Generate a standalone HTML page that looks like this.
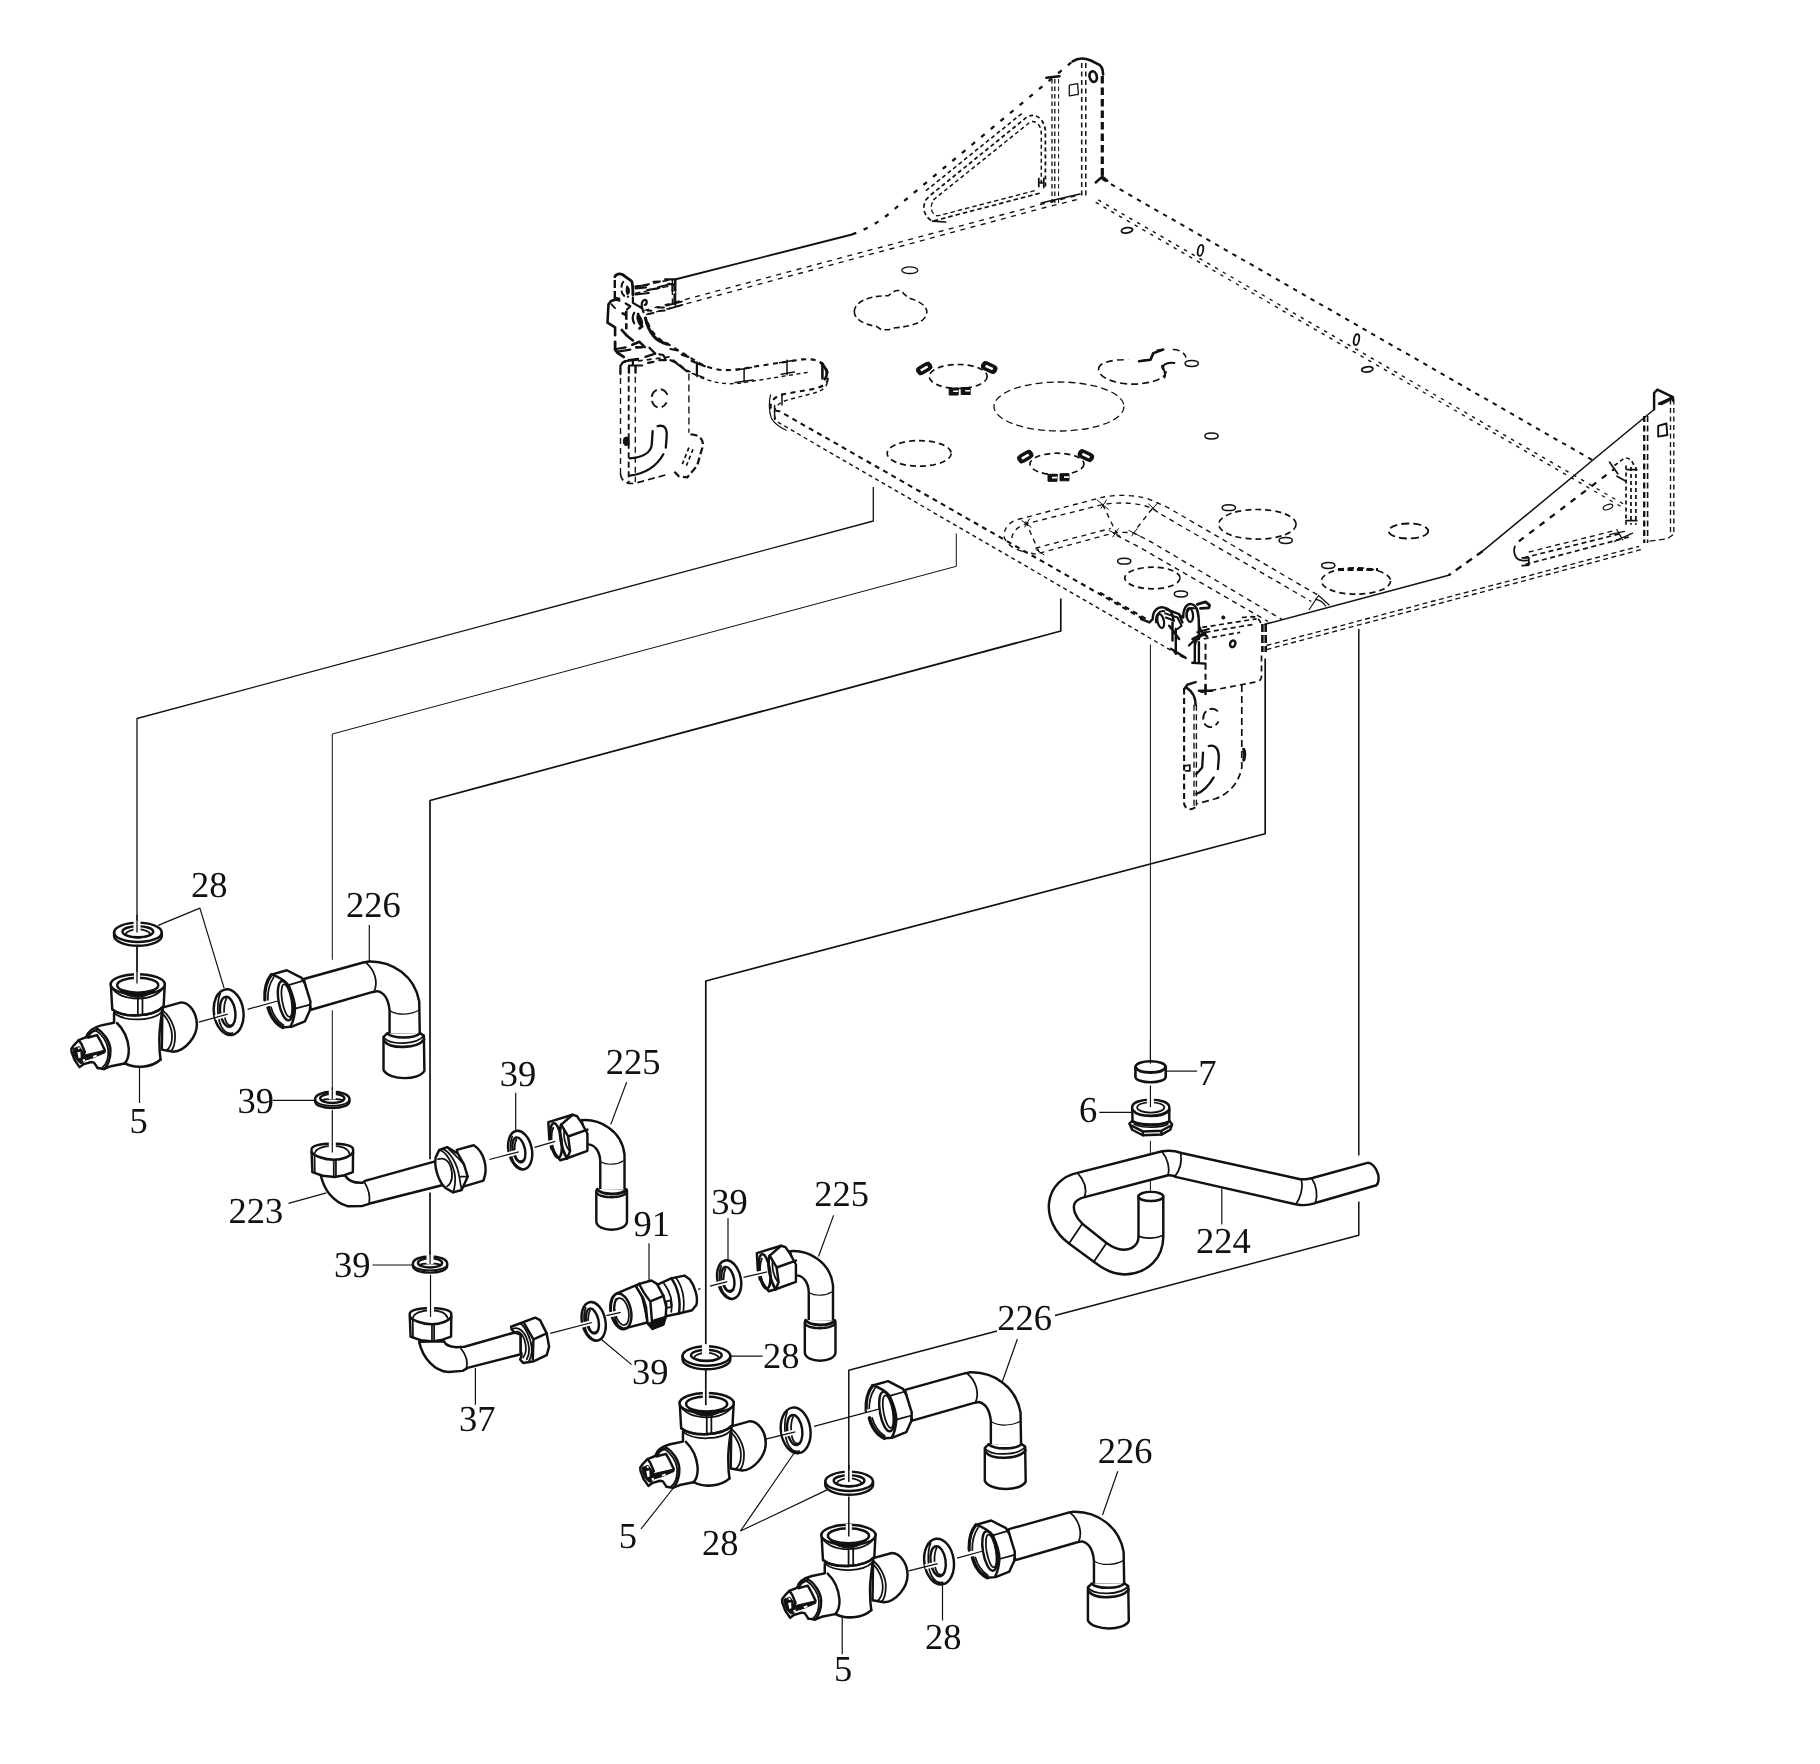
<!DOCTYPE html>
<html lang="en"><head><meta charset="utf-8"><title>Exploded view</title>
<style>
html,body{margin:0;padding:0;background:#fff;}
body{width:1820px;height:1764px;overflow:hidden;}
svg{display:block;will-change:transform;}
svg *{vector-effect:non-scaling-stroke;}
.o{fill:none;stroke:#111;stroke-width:2.45;stroke-linecap:round;stroke-linejoin:round;}
.m{fill:none;stroke:#111;stroke-width:1.75;stroke-linecap:round;stroke-linejoin:round;}
.t{fill:none;stroke:#111;stroke-width:1.2;stroke-linecap:butt;stroke-linejoin:round;}
.w{fill:#fff;stroke:#111;stroke-width:2.45;stroke-linecap:round;stroke-linejoin:round;}
.wm{fill:#fff;stroke:#111;stroke-width:1.75;stroke-linecap:round;stroke-linejoin:round;}
.h{fill:none;stroke:#fff;stroke-width:6;stroke-linecap:butt;}
.k{fill:#111;stroke:#111;stroke-width:1;stroke-linejoin:round;}
.d{fill:none;stroke:#111;stroke-width:1.7;stroke-dasharray:6 3.5;stroke-linecap:butt;stroke-linejoin:round;}
.dt{fill:none;stroke:#111;stroke-width:1.35;stroke-dasharray:6 3.5;stroke-linecap:butt;stroke-linejoin:round;}
.db{fill:none;stroke:#111;stroke-width:2.3;stroke-dasharray:6 4;stroke-linecap:butt;stroke-linejoin:round;}
text{text-rendering:geometricPrecision;font-family:"Liberation Serif","DejaVu Serif",serif;font-size:36.5px;fill:#111;}
</style></head><body>
<svg width="1820" height="1764" viewBox="0 0 1820 1764">
<rect x="0" y="0" width="1820" height="1764" fill="#fff"/>
<!-- 05_tray.py -->
<path class="m" style="stroke-width:1.9" d="M674.9,279.5 L852.0,234.5"/>
<path class="db" style="stroke-dasharray:4.5 8" d="M852,234.5 C875,226 888,215 899.6,204.7 L1072.6,61.3"/>
<path class="dt" style="stroke-dasharray:5 5.5" d="M644.4,310.4 L1046.3,203.0 L1081.0,194.5"/>
<path class="dt" style="stroke-dasharray:5 5.5" d="M646.0,314.6 L1041.3,208.5 L1081.0,198.5"/>
<path class="d" d="M634.5,286.9 L672.4,279.5"/>
<path class="dt" d="M634.5,293.5 L672.4,285.6"/>
<path class="dt" d="M672.4,279.5 L672.4,306.0"/>
<path class="m" style="stroke-width:1.2" d="M675.7,279.5 L675.7,306.0"/>
<path class="o" style="stroke-width:2.6" d="M1072.6 61.3C1077.6 58.0 1084.2 57.7 1090.8 60.5L1097.4 63.8C1101.5 65.4 1103.1 69.6 1103.1 74.5"/>
<path class="db" style="stroke-width:3.2;stroke-dasharray:7.5 4" d="M1102.3,76.0 L1102.3,176.7"/>
<path class="o" d="M1095.7 182.5L1102.3 176.7L1107.3 180.8M1102.3 171.8L1102.3 178.4"/>
<path class="dt" style="stroke-width:1.3;stroke-dasharray:4.5 3" d="M1052.0,79.0 L1052.0,203.0"/>
<path class="dt" style="stroke-width:1.3;stroke-dasharray:4.5 3" d="M1054.8,79.0 L1054.8,203.0"/>
<path class="dt" style="stroke-width:1;stroke-dasharray:4.5 3" d="M1058.6,79.0 L1058.6,203.0"/>
<path class="dt" style="stroke-width:1.5;stroke-dasharray:5 3.5" d="M1081.7,63.0 L1081.7,196.5"/>
<path class="dt" style="stroke-width:1.5;stroke-dasharray:5 3.5" d="M1085.8,63.0 L1085.8,196.5"/>
<path class="o" d="M1046.3,77.8 L1059.5,76.2"/>
<path class="t" style="stroke-width:1.3" d="M1069.3 85.2L1077.6 83.6L1078.4 94.3L1069.3 95.9Z"/>
<ellipse class="o" cx="1093.2" cy="76.6" rx="3.6" ry="5.4" transform="rotate(-15 1093.2 76.6)" style="stroke-width:2.6"/>
<path class="d" style="stroke-width:1.8;stroke-dasharray:4 3" d="M930.9 194.8L1026.5 117.4C1031.4 114.1 1037.2 114.9 1041.3 119.8C1044.3 124.0 1045.4 128.1 1045.4 132.2L1045.4 186.6"/>
<path class="d" style="stroke-width:1.6;stroke-dasharray:4 3" d="M925.9 190.7L1023.2 112.4"/>
<path class="d" style="stroke-width:1.5;stroke-dasharray:4 3" d="M933.4 199.8L1029.8 122.3C1033.1 120.3 1037.2 122.3 1039.7 126.4C1041.3 129.7 1041.3 133.0 1041.3 137.1L1041.3 186.6"/>
<path class="d" style="stroke-width:1.7;stroke-dasharray:4.5 3" d="M1039.7 193.2L932.5 221.2C925.9 217.9 921.0 209.7 925.9 199.8L930.9 194.8"/>
<path class="dt" style="stroke-dasharray:4.5 3" d="M1034.7 190.7L937.5 215.9C932.5 214.6 929.2 208.8 932.5 202.3"/>
<path class="m" d="M932.5 221.2L945.7 222.0M1038.8 178.4L1038.8 186.6M1043.8 178.4L1043.8 187.4M1038.8 182.5L1043.8 182.5"/>
<path class="m" style="stroke-width:1.3" d="M1041.0,203.0 L1080.0,194.0"/>
<path class="db" style="stroke-width:2.0;stroke-dasharray:4.5 5.5" d="M1102.3,179.2 L1593.1,460.5"/>
<path class="dt" style="stroke-dasharray:3.5 5.5" d="M1095.7,202.3 L1622.0,507.1"/>
<path class="dt" style="stroke-dasharray:3.5 5.5" d="M1098.2,199.8 L1624.5,504.6"/>
<ellipse class="m" cx="1200.5" cy="250.4" rx="2.6" ry="5.6" transform="rotate(12 1200.5 250.4)"/>
<ellipse class="m" cx="1356.5" cy="339.6" rx="2.6" ry="5.6" transform="rotate(12 1356.5 339.6)"/>
<ellipse class="m" cx="1127.0" cy="230.3" rx="5.6" ry="2.6" transform="rotate(-8 1127.0 230.3)"/>
<ellipse class="m" cx="1367.3" cy="369.4" rx="5.6" ry="2.6" transform="rotate(-8 1367.3 369.4)"/>
<path class="m" style="stroke-width:1.5" d="M1654.1,409.5 L1482.6,551.2"/>
<path class="db" style="stroke-dasharray:7 6" d="M1482.6,551.2 L1448.7,575.3"/>
<path class="m" style="stroke-width:1.5" d="M1448.7,575.3 L1264.8,624.3"/>
<path class="o" d="M1654.1 409.5L1654.1 393.0L1657.4 389.7L1673.0 397.1L1673.0 400.4M1659.0 403.7L1671.4 398.2"/>
<path class="k" d="M1659.0 404.2L1670.5 397.6L1671.9 399.6L1661.5 404.8Z"/>
<path class="db" style="stroke-dasharray:6 3.5" d="M1644.2,416.0 L1644.2,543.0"/>
<path class="db" style="stroke-dasharray:6 3.5;stroke-width:1.6" d="M1647.6,416.0 L1647.6,543.0"/>
<path class="dt" style="stroke-dasharray:5 3.5" d="M1670.5,399.6 L1670.5,534.7"/>
<path class="dt" style="stroke-dasharray:5 3.5" d="M1673.8,399.6 L1673.8,534.7"/>
<path class="dt" d="M1673.0 534.7L1667.3 538.8L1647.5 541.3"/>
<path class="o" style="stroke-width:1.9" d="M1658.2 425.9L1666.4 423.5L1667.3 435.0L1658.2 436.6Z"/>
<path class="db" style="stroke-dasharray:6 7" d="M1518.9 541.3L1614.5 468.8"/>
<path class="d" style="stroke-dasharray:4 3" d="M1614.5 465.5L1624.4 458.1C1629.3 457.3 1632.6 460.5 1634.3 467.1M1626.0 465.5L1626.0 524.8M1635.9 467.1L1635.9 524.8M1631.0 467.1L1631.0 524.8"/>
<path class="m" d="M1626.9 469.6L1636.8 469.6M1626.0 520.7L1636.8 520.7M1617.0 476.2L1626.0 481.2M1617.8 473.7L1609.6 462.2"/>
<path class="d" style="stroke-dasharray:5 3.5" d="M1523.8 557.8L1622.7 533.1M1525.5 564.4L1631.0 536.4"/>
<path class="dt" style="stroke-dasharray:5 4" d="M1528.8 552.0L1617.8 529.8"/>
<path class="m" d="M1514.8 546.3C1512.3 556.2 1517.3 561.9 1527.1 560.3M1522.2 557.8L1528.8 557.8L1528.8 565.2L1522.2 565.7"/>
<path class="m" style="stroke-width:1.3" d="M1609.6 534.7L1624.4 531.4M1614.5 541.3L1632.6 533.1M1617.8 531.4L1622.7 539.7"/>
<path class="dt" style="stroke-dasharray:5 3.5" d="M1266.5,645.5 L1639.2,546.3"/>
<path class="dt" style="stroke-dasharray:5 3.5" d="M1266.5,649.6 L1640.9,549.6"/>
<ellipse class="m" cx="1608.0" cy="507.0" rx="5.0" ry="2.4" transform="rotate(-20 1608.0 507.0)" style="stroke-width:1.2"/>
<path class="db" style="stroke-width:2.1;stroke-dasharray:5 4.5" d="M647.7 322.3C651.0 332.2 659.2 340.4 667.5 343.7L697.1 361.9C705.4 366.8 715.3 370.1 725.2 370.1C735.1 370.1 744.9 368.5 754.8 366.5L802.6 359.4C810.9 358.6 819.1 360.2 823.2 364.3C827.4 368.5 829.0 375.1 827.4 380.8C825.7 384.9 820.8 387.4 812.5 389.1L784.5 394.0C776.3 395.7 771.3 399.8 770.5 406.4C770.5 408.8 773.0 410.5 779.6 411.3 L1145.5,620.3"/>
<path class="dt" style="stroke-width:1.4;stroke-dasharray:4 3.5" d="M687.3 370.1C697.1 376.7 710.3 382.5 726.8 383.6C736.7 384.1 744.9 382.5 754.8 380.8L809.2 372.1M827.4 382.5C825.7 388.2 820.8 391.5 812.5 393.5L787.8 399.8C779.6 402.3 774.6 406.4 774.3 413.0C774.3 417.9 776.3 421.2 779.6 423.2 L1186,659"/>
<path class="m" style="stroke-width:1.5" d="M697.1 361.9L697.1 376.7M744.1 368.5L744.1 382.0M787.0 360.2L787.0 374.7M782.0 394.0L782.0 405.1M774.6 405.5L774.6 419.6M692.2 373.4L703.7 377.5M735.1 382.5L753.2 380.0M781.2 374.2L794.4 372.1M779.6 362.7L794.4 360.2M736.7 370.1L751.5 367.6"/>
<path class="o" style="stroke-width:2.6" d="M820.8 362.7C827.4 368.5 828.2 375.1 824.9 379.2M822.4 363.5L822.4 378.4"/>
<path class="m" style="stroke-width:1.2" d="M770.5 394.8C768.8 401.4 768.8 411.3 771.3 417.9C774.6 424.5 781.2 427.8 786.2 430.3"/>
<path class="db" style="stroke-width:2.4;stroke-dasharray:8 3" d="M614.8 298.9L614.8 276.8"/>
<path class="o" style="stroke-width:2.8" d="M614.8 276.8C615.8 273.9 619.7 273.2 622.4 274.5L631.6 281.1C632.6 283.1 632.9 285.1 632.9 295.0"/>
<path class="k" d="M627.0 285.7C630.3 288.4 630.3 293.0 627.6 295.0C625.7 293.6 625.7 288.4 627.0 285.7Z"/>
<path class="d" style="stroke-width:1.9;stroke-dasharray:7 3" d="M623.7 281.1C621.1 283.8 620.7 289.7 622.4 293.6L625.7 297.9L629.0 296.3"/>
<path class="o" style="stroke-width:2.0" d="M635.6 286.5L647.4 285.1M653.4 281.8L660.0 281.6M658.0 287.2L671.2 283.9M635.6 288.5L646.1 287.4M635.6 294.4L648.7 293.0M647.4 290.0L659.3 288.0"/>
<path class="o" style="stroke-width:2.3" d="M665.2 279.3L675.1 279.3L675.1 290.4M674.5 294.3L674.5 304.2M672.5 283.8L672.5 291.0M668.5 283.8L675.1 284.4"/>
<path class="o" style="stroke-width:2.0" d="M657.3 307.5L663.9 307.5M666.5 305.5L681.7 301.6M659.3 311.1L664.6 310.5M668.5 308.9L682.4 304.9M647.4 310.5L651.4 310.8M648.1 314.1L653.4 313.1"/>
<path class="o" style="stroke-width:2.6" d="M619.1 298.9L615.1 299.7L611.2 300.9L608.5 304.2L607.9 314.7L607.5 322.7L615.1 327.3L615.1 335.2"/>
<path class="o" style="stroke-width:2.8" d="M615.1 341.8L615.1 349.7L617.8 353.0L623.7 356.9"/>
<path class="m" d="M611.2 304.2L615.1 308.2M615.1 299.6L619.7 300.9M615.8 297.6L619.1 298.9"/>
<path class="o" style="stroke-width:2.2" d="M632.9 297.6L632.9 302.9L642.2 308.2M625.7 303.5L630.3 306.2L627.0 309.5M642.2 308.2C640.8 304.2 642.2 300.2 644.8 299.9C647.4 300.2 647.4 304.2 644.8 304.9M642.2 308.2L643.5 312.1"/>
<path class="db" style="stroke-width:2.6;stroke-dasharray:9 3.5" d="M621.7 312.8L625.0 314.7L626.3 312.1M626.3 310.8L626.3 329.3"/>
<path class="o" style="stroke-width:2.2" d="M634.2 312.8C632.3 316.1 632.3 320.0 634.2 323.3"/>
<path class="o" style="stroke-width:2.8" d="M638.2 314.1C636.9 318.7 638.9 324.0 642.2 326.3L639.5 328.3M638.9 316.1C640.8 318.7 642.2 322.7 641.5 325.3"/>
<path class="o" style="stroke-width:3.2" d="M645.4 318.0C646.8 324.6 650.1 331.9 654.0 336.5C657.3 340.5 661.9 342.8 667.5 344.1"/>
<path class="o" style="stroke-width:2.6" d="M621.7 329.9L627.0 335.8L632.9 340.5M632.3 344.7L639.5 341.8L644.8 347.1M636.2 347.4L642.2 347.1"/>
<path class="o" style="stroke-width:2.2" d="M616.4 349.0L625.7 347.4M617.8 351.7L630.3 349.7M649.4 347.7L655.3 353.6L645.4 356.9M659.3 354.3L663.3 355.0L665.9 360.2L659.3 360.2M648.1 362.9L653.4 361.9"/>
<path class="o" style="stroke-width:2.2" d="M670.5 349.0L677.8 350.3M681.7 354.6L688.3 356.9M670.5 360.2L675.1 362.2L687.0 371.4M691.6 360.9L704.8 366.2M696.9 364.9L696.9 374.1"/>
<path class="o" style="stroke-width:2.2" d="M621.1 364.9C622.4 362.2 624.4 360.9 627.0 360.9L638.2 359.6M628.3 360.2L638.2 358.9M632.9 359.6L632.9 364.9M629.0 365.5L642.2 365.5M620.4 365.5L620.4 374.1M629.0 366.8L629.0 372.8M635.6 366.8L635.6 372.8"/>
<path class="d" style="stroke-dasharray:5 4" d="M637.8 361.0L669.1 356.9L688.9 371.8"/>
<path class="dt" style="stroke-dasharray:6 4" d="M620.5 474.0L620.5 366.8C621.0 363.5 623.0 361.9 626.3 361.9"/>
<path class="d" style="stroke-width:1.9;stroke-dasharray:6 3.5" d="M628.7 366.8L628.7 482.2"/>
<path class="dt" style="stroke-dasharray:6 4" d="M635.3 366.8L635.3 482.2"/>
<path class="dt" style="stroke-dasharray:7 4" d="M688.9 373.4L688.9 432.7"/>
<path class="d" style="stroke-dasharray:7 4" d="M620.5 474.0C621.3 482.2 627.9 484.7 636.2 483.0L669.1 474.0"/>
<path class="d" style="stroke-width:1.9;stroke-dasharray:9 4" d="M667.5 394.8C664.2 388.2 657.6 387.4 653.5 392.4C649.3 398.1 652.6 407.2 659.2 407.7C662.5 407.7 665.0 405.5 666.6 402.3"/>
<path class="o" style="stroke-width:2.3" d="M657.6 426.2C664.2 424.5 667.5 427.8 666.6 437.7L665.8 447.6M652.6 431.1L651.8 444.3C651.0 452.5 642.7 457.5 629.6 458.3M663.4 454.2C655.9 467.4 642.7 474.0 629.6 475.6"/>
<ellipse class="k" cx="626.3" cy="441.3" rx="3.0" ry="4.2"/>
<path class="db" style="stroke-dasharray:7 3.5" d="M690.5 434.4C698.8 434.4 703.7 439.3 702.9 445.9L697.1 465.7L687.3 477.3L679.0 476.4L674.1 471.5"/>
<path class="d" style="stroke-dasharray:4 3" d="M688.9 447.6L682.3 464.1M693.0 449.2L686.4 465.7"/>
<path class="db" style="stroke-width:2.1;stroke-dasharray:5 4.5" d="M1100.0 592.7L1149.5 620.8"/>
<path class="o" d="M1141.2 619.1L1149.5 622.4L1152.7 619.1C1152.7 610.9 1157.7 605.9 1164.3 607.6C1169.2 608.4 1172.5 612.5 1173.4 619.1M1183.2 617.5C1183.2 607.6 1187.4 602.6 1192.3 604.3C1197.3 605.9 1198.9 612.5 1198.9 625.7L1198.9 638.9"/>
<ellipse class="o" cx="1160.7" cy="621.1" rx="3.2" ry="7.0" transform="rotate(-12 1160.7 621.1)" style="stroke-width:2.2"/>
<ellipse class="o" cx="1189.8" cy="615.0" rx="3.2" ry="7.0" transform="rotate(-5 1189.8 615.0)" style="stroke-width:2.2"/>
<path class="o" style="stroke-width:2.0" d="M1156.0 622.4C1155.2 615.0 1159.3 610.1 1164.3 611.2M1186.5 617.5C1186.0 610.9 1189.8 606.8 1194.0 608.4M1165.1 613.4L1177.5 617.5L1181.6 625.7L1177.5 629.0M1165.9 617.5L1174.2 620.8M1179.1 614.2L1182.4 617.5"/>
<path class="o" style="stroke-width:2.2" d="M1192.3 638.9L1205.5 632.3M1197.3 632.3L1208.8 629.0M1189.0 645.5L1195.6 638.9M1198.9 625.7C1201.4 632.3 1203.8 635.6 1207.1 636.4"/>
<path class="o" style="stroke-width:2.8" d="M1197.3 604.3L1205.5 601.8L1209.6 605.1L1208.8 607.9L1200.5 608.4"/>
<path class="o" d="M1165.9 609.2L1179.1 614.2L1182.4 622.4M1172.5 622.4L1172.5 640.5M1175.8 629.0L1175.8 653.7M1169.2 625.7L1179.1 638.9M1170.9 648.8L1185.7 657.9"/>
<path class="o" style="stroke-width:2.4" d="M1194.8 642.2L1194.8 662.0M1198.9 642.2L1198.9 662.0M1194.8 645.5C1195.6 638.9 1198.9 635.6 1205.5 634.0M1192.3 662.8L1205.5 663.6"/>
<path class="d" style="stroke-dasharray:5 3.5" d="M1202.2 627.4L1256.6 618.8M1205.5 632.3L1253.3 624.4M1203.8 638.9L1240.1 632.3M1241.8 617.5L1253.3 616.6C1258.2 617.5 1260.7 620.8 1261.5 625.7"/>
<path class="db" style="stroke-dasharray:8 3;stroke-width:2.6" d="M1262.4 624.1L1262.4 652.1M1265.7 624.1L1265.7 652.1"/>
<path class="d" style="stroke-dasharray:6 4" d="M1261.5 655.4L1261.5 676.8C1260.7 681.8 1256.6 681.8 1254.9 682.1L1200.5 692.5"/>
<path class="db" style="stroke-width:2;stroke-dasharray:6 4" d="M1205.5 643.8L1205.5 691.6"/>
<path class="o" d="M1198.9 690.8L1212.1 690.8M1205.5 685.1L1205.5 694.1"/>
<ellipse class="o" cx="1232.7" cy="643.8" rx="2.6" ry="3.4" transform="rotate(20 1232.7 643.8)"/>
<ellipse class="k" cx="1223.3" cy="617.5" rx="1.6" ry="1.6"/>
<path class="db" style="stroke-width:2.1;stroke-dasharray:6 3.5" d="M1184.1 688.4L1184.1 803.7C1185.7 810.3 1192.3 810.3 1195.6 807.0"/>
<path class="dt" style="stroke-dasharray:6 3.5" d="M1194.0 704.8L1194.0 807.0M1196.4 704.8L1196.4 807.0"/>
<path class="o" d="M1184.1 689.2L1187.4 684.7L1195.6 682.1M1187.4 688.4C1192.3 691.6 1195.6 695.8 1195.6 704.8"/>
<path class="d" style="stroke-width:1.7;stroke-dasharray:7 4" d="M1241.8 685.1L1241.8 767.5C1238.5 784.0 1228.6 793.8 1215.4 798.8L1197.3 803.7"/>
<path class="o" style="stroke-width:3.2" d="M1243.7 749.3C1245.1 752.6 1245.1 755.9 1243.7 760.1"/>
<path class="d" style="stroke-width:1.9;stroke-dasharray:9 4" d="M1217.9 711.4C1213.7 707.3 1208.0 708.1 1204.7 713.1C1201.4 718.8 1203.8 726.3 1209.6 727.1C1213.7 727.4 1217.0 724.6 1218.4 721.3"/>
<path class="o" style="stroke-width:2.3" d="M1208.8 746.0C1215.4 744.4 1219.5 749.3 1218.7 759.2L1217.9 769.1M1203.0 752.6L1202.2 767.5L1196.4 774.1M1213.7 777.4C1208.8 785.6 1202.2 792.2 1196.4 793.8"/>
<path class="m" d="M1184.9 765.8L1189.8 765.0L1189.8 770.8L1185.7 770.8"/>
<path class="dt" style="stroke-dasharray:5 4.5" d="M1021.6,551.1 C1013.7,549.1 1004.8,543.2 1003.8,535.3 C1004.8,525.4 1011.8,520.4 1021.6,518.5 L1100.8,497.7 C1116.6,493.7 1142.3,494.7 1154.2,501.6 L1167.5,507.3 L1318.6,595.5"/>
<path class="dt" style="stroke-dasharray:5 4.5" d="M1011.8,538.2 C1012.7,530.3 1019.7,525.4 1027.6,523.4 L1102.7,504.6 C1118.6,501.6 1140.3,502.6 1152.2,508.6 L1161.4,514.5 L1311.3,601.5"/>
<path class="dt" style="stroke-dasharray:5 4.5" d="M1021.6,551.1 L1039.5,555 M1039.5,553.1 L1112.6,533.3 C1120.5,531.7 1128.5,532.3 1134.4,533.3 L1151.8,542.3 L1282.3,619.7"/>
<path class="dt" style="stroke-dasharray:5 4.5" d="M1035.5,548.1 L1110.7,528.4 M1116.6,535.3 L1142.1,548.7 L1268,621.5"/>
<path class="dt" style="stroke-dasharray:5 4.5" d="M1102.7 504.6L1116.6 533.3M1152.2 508.6L1134.4 531.3M1025.6 521.4L1039.5 553.1"/>
<path class="t" style="stroke-width:1.0" d="M1096.8 499.7L1108.7 509.6M1106.7 499.7L1100.8 508.6M1148.2 503.6L1158.1 512.5M1158.1 502.6L1149.2 512.5M1108.7 530.3L1120.5 536.3M1118.6 528.4L1112.6 537.3M1128.5 530.3L1140.3 536.3M1137.4 528.4L1131.4 536.3M1021.6 520.4L1031.5 527.4M1029.6 518.5L1024.6 527.4M1035.5 549.1L1044.4 555.1"/>
<path class="t" style="stroke-width:1.2" d="M1308.9,610 L1318.6,595.5 L1329.5,605.2 M1315,599.1 C1320,600 1324,603 1325.8,606.4"/>
<ellipse class="m" cx="909.8" cy="270.2" rx="8.0" ry="3.3" style="stroke-width:1.3"/>
<path class="d" style="stroke-width:1.6;stroke-dasharray:6 3.5" d="M854.3 311.8C854.3 301.5 869.6 295.7 888.3 295.7L891.8 293.0C895.2 289.6 902.0 289.6 903.7 293.7L908.8 298.1C920.7 301.5 926.8 306.6 926.8 311.8C926.8 322.0 912.2 326.4 895.2 327.8L888.3 329.8L881.5 329.8L876.4 326.4C862.8 324.4 854.3 318.6 854.3 311.8"/>
<ellipse class="d" cx="958.2" cy="376.5" rx="29.0" ry="12.0" style="stroke-dasharray:6 4"/>
<g transform="translate(924.2,368.5) rotate(-30)"><rect class="k" x="-8" y="-4.2" width="16" height="8.4" rx="3.5"/><rect x="-4" y="-1.2" width="8" height="2.4" fill="#fff"/></g>
<g transform="translate(989.2,367.5) rotate(25)"><rect class="k" x="-8" y="-4.2" width="16" height="8.4" rx="3.5"/><rect x="-4" y="-1.2" width="8" height="2.4" fill="#fff"/></g>
<path class="k" d="M949.2,388.0 h9 v7 h-9 z M961.2,387.5 h9 v7 h-9 z"/>
<path d="M953.2,390.5 h5 v1.6 h-5 z M965.2,390.0 h5 v1.6 h-5 z" fill="#fff"/>
<ellipse class="d" cx="1057.0" cy="464.0" rx="27.0" ry="10.8" style="stroke-dasharray:6 4"/>
<g transform="translate(1025.3,456.6) rotate(-30)"><rect class="k" x="-8" y="-4.2" width="16" height="8.4" rx="3.5"/><rect x="-4" y="-1.2" width="8" height="2.4" fill="#fff"/></g>
<g transform="translate(1085.9,455.6) rotate(25)"><rect class="k" x="-8" y="-4.2" width="16" height="8.4" rx="3.5"/><rect x="-4" y="-1.2" width="8" height="2.4" fill="#fff"/></g>
<path class="k" d="M1048.0,474.3 h9 v7 h-9 z M1060.0,473.8 h9 v7 h-9 z"/>
<path d="M1052.0,476.8 h5 v1.6 h-5 z M1064.0,476.3 h5 v1.6 h-5 z" fill="#fff"/>
<ellipse class="dt" cx="1059.0" cy="406.5" rx="65.0" ry="24.5" style="stroke-dasharray:7 4;stroke-width:1.3"/>
<ellipse class="d" cx="919.2" cy="453.4" rx="32.0" ry="12.8" style="stroke-dasharray:6 4"/>
<path class="d" style="stroke-width:1.6;stroke-dasharray:7 4" d="M1098.6 369.2C1098.6 362.6 1111.8 359.3 1128.2 359.7M1139.8 361.0L1150.5 359.3L1153.0 352.7C1156.3 349.5 1161.2 349.5 1162.9 349.5M1172.7 349.5C1179.3 349.5 1185.1 352.7 1185.9 357.7M1163.7 365.9C1159.6 363.5 1162.9 372.5 1166.2 369.2C1167.8 377.5 1156.3 382.4 1136.5 384.1C1120.0 384.9 1098.6 379.1 1098.6 369.2"/>
<path class="o" style="stroke-width:2.6" d="M1139.0 361.3L1150.5 359.7L1153.5 353.1L1163.2 349.5"/>
<path class="o" style="stroke-width:1.9" d="M1174.4 363.0C1169.5 362.3 1162.9 363.5 1163.2 367.6C1164.5 372.5 1166.2 374.2 1164.5 377.5"/>
<ellipse class="m" cx="1191.7" cy="363.5" rx="6.6" ry="2.9" style="stroke-width:1.5"/>
<ellipse class="m" cx="1211.5" cy="436.0" rx="6.6" ry="2.9" style="stroke-width:1.5"/>
<ellipse class="m" cx="1228.8" cy="507.7" rx="6.6" ry="2.9" style="stroke-width:1.5"/>
<ellipse class="m" cx="1285.7" cy="540.5" rx="6.6" ry="2.9" style="stroke-width:1.5"/>
<ellipse class="m" cx="1124.2" cy="561.2" rx="6.6" ry="2.9" style="stroke-width:1.5"/>
<ellipse class="m" cx="1180.9" cy="594.0" rx="6.6" ry="2.9" style="stroke-width:1.5"/>
<ellipse class="m" cx="1328.3" cy="565.5" rx="6.6" ry="2.9" style="stroke-width:1.5"/>
<ellipse class="d" cx="1257.4" cy="524.3" rx="38.7" ry="14.8" style="stroke-dasharray:6 4"/>
<ellipse class="d" cx="1152.4" cy="578.0" rx="27.6" ry="10.8" style="stroke-dasharray:6 4"/>
<ellipse class="d" cx="1356.0" cy="581.0" rx="34.6" ry="13.2" style="stroke-dasharray:6 4"/>
<path class="db" style="stroke-width:3;stroke-dasharray:6 3.5" d="M1338,569.5 L1378,569.5"/>
<ellipse class="d" cx="1408.5" cy="531.0" rx="19.8" ry="7.5" style="stroke-dasharray:8 4;stroke-width:1.8"/>
<!-- 10_leaders.py -->
<polyline class="t" style="stroke-width:1.3" points="873.3,487.0 873.3,521.0 137.0,718.5 137.0,932.6"/>
<polyline class="t" style="stroke-width:1.3" points="137.0,947.1 137.0,983.4"/>
<polyline class="t" style="stroke-width:1" points="956.3,533.5 956.3,566.3 332.3,734.0 332.3,959.8"/>
<polyline class="t" style="stroke-width:1" points="332.3,1010.3 332.3,1099.3"/>
<polyline class="t" style="stroke-width:1.7" points="1060.8,598.5 1060.8,631.0 430.0,800.5 430.0,1159.2"/>
<polyline class="t" style="stroke-width:1.7" points="430.0,1192.4 430.0,1263.9"/>
<polyline class="t" style="stroke-width:1.7" points="1265.2,658.5 1265.2,833.8 705.8,981.0 705.8,1344.8"/>
<polyline class="t" style="stroke-width:1" points="1150.4,644.5 1150.4,1063.6"/>
<polyline class="t" style="stroke-width:1" points="1150.4,1140.9 1150.4,1197.1"/>
<polyline class="t" style="stroke-width:1.5" points="1358.8,629.0 1358.8,1155.6"/>
<polyline class="t" style="stroke-width:1.5" points="1358.8,1201.5 1358.8,1235.3 1055.0,1315.6"/>
<polyline class="t" style="stroke-width:1.5" points="997.0,1331.0 848.8,1370.2 848.8,1482.0"/>
<polyline class="t" style="stroke-width:1.2" points="158.2,925.4 199.9,908.1 224.1,988.2"/>
<polyline class="t" style="stroke-width:1.2" points="369.3,925.0 369.3,961.0"/>
<polyline class="t" style="stroke-width:1.2" points="139.5,1066.8 139.5,1103.0"/>
<polyline class="t" style="stroke-width:1.2" points="273.0,1100.3 315.0,1100.3"/>
<polyline class="t" style="stroke-width:1.2" points="288.5,1203.3 326.5,1192.8"/>
<polyline class="t" style="stroke-width:1.2" points="515.7,1092.8 515.7,1130.0"/>
<polyline class="t" style="stroke-width:1.2" points="626.6,1082.2 610.8,1124.4"/>
<polyline class="t" style="stroke-width:1.2" points="649.0,1243.2 649.0,1281.1"/>
<polyline class="t" style="stroke-width:1.2" points="728.0,1218.0 728.0,1260.2"/>
<polyline class="t" style="stroke-width:1.2" points="833.6,1215.4 818.5,1256.5"/>
<polyline class="t" style="stroke-width:1.2" points="372.5,1265.0 412.5,1265.0"/>
<polyline class="t" style="stroke-width:1.2" points="475.4,1367.9 475.4,1404.7"/>
<polyline class="t" style="stroke-width:1.2" points="600.0,1338.2 631.6,1364.6"/>
<polyline class="t" style="stroke-width:1.2" points="729.5,1356.2 762.5,1356.2"/>
<polyline class="t" style="stroke-width:1.2" points="1017.4,1339.0 1002.0,1382.5"/>
<polyline class="t" style="stroke-width:1.2" points="641.0,1529.0 674.6,1486.5"/>
<polyline class="t" style="stroke-width:1.2" points="794.2,1453.0 740.5,1531.0 827.1,1489.9"/>
<polyline class="t" style="stroke-width:1.2" points="1117.8,1471.2 1102.5,1515.0"/>
<polyline class="t" style="stroke-width:1.2" points="842.2,1617.4 842.2,1654.3"/>
<polyline class="t" style="stroke-width:1.2" points="942.5,1584.2 942.5,1620.4"/>
<polyline class="t" style="stroke-width:1.2" points="1166.4,1071.1 1197.1,1071.1"/>
<polyline class="t" style="stroke-width:1.2" points="1099.3,1112.4 1132.1,1112.4"/>
<polyline class="t" style="stroke-width:1.2" points="1221.8,1188.5 1221.8,1224.4"/>
<!-- 20_valve.py -->
<g transform="translate(0,0)"><g transform="translate(50,900) scale(0.12088)">
<path class="w" d="M530,268 C530,225 620,187 727,187 C835,187 925,225 925,268 L925,298 C925,340 835,378 727,378 C620,378 530,340 530,298 Z"/>
<path class="o" d="M530,268 C530,312 620,348 727,348 C835,348 925,312 925,268"/>
<ellipse class="o" cx="727" cy="262" rx="127" ry="46"/>
<path class="m" d="M622,285 C640,255 690,243 727,243 C770,243 815,255 833,285 C810,305 770,313 727,313 C690,313 645,305 622,285"/>
<path class="h" style="stroke-width:7" d="M720,170 L720,270"/>
</g></g>
<g transform="translate(0,0)">
<g transform="translate(50,900) scale(0.12088)">
<path class="w" d="M503,690 L515,905 L530,935 L530,1020 L540,1018 C620,1100 650,1200 620,1350 C700,1395 840,1390 915,1320 C905,1250 900,1150 912,1050 L930,900 L940,880 L950,690 Z" style="stroke:none"/>
<path class="w" d="M930,890 L1085,847 C1160,850 1215,940 1215,1030 C1215,1130 1120,1250 1020,1255 L925,1238 Z"/>
<path class="m" d="M935,915 C990,960 1035,1050 1035,1120 C1035,1190 1020,1230 1000,1250"/>
<path class="m" d="M925,935 C975,980 1010,1060 1010,1125 C1010,1190 990,1225 965,1245"/>
<path class="o" d="M930,900 C915,1000 900,1100 905,1180 C905,1250 910,1290 915,1320"/>
<path class="o" d="M530,935 L530,1020"/>
<path class="o" style="stroke-width:2.6" d="M620,1350 C690,1395 840,1392 915,1320"/>
<path class="w" d="M503,690 L515,905 C600,975 850,975 940,880 L950,690 Z"/>
<path class="o" style="stroke-width:2.4" d="M515,905 C600,975 850,975 940,880"/>
<path class="m" d="M530,935 C620,1010 850,1005 925,925"/>
<ellipse class="w" cx="726" cy="698" rx="224" ry="84"/>
<path class="k" d="M556,715 C600,790 850,790 896,715 C870,760 800,805 726,805 C650,805 585,770 556,715 Z"/>
<ellipse class="o" cx="726" cy="705" rx="170" ry="62"/>
<path class="m" d="M505,720 C560,800 650,815 726,815 C800,815 890,800 947,715"/>
<path class="m" d="M727,805 L727,952 M765,805 L765,947"/>
</g>
<g transform="translate(65,1010) scale(0.06044)">
<path class="w" d="M810,212 L600,255 C480,285 380,350 352,450 L225,500 L150,580 L105,640 L110,700 L160,830 L240,945 L300,900 L430,860 L480,870 L540,960 L640,975 L985,885 C1060,700 1060,450 860,215 Z" style="stroke:none"/>
<path class="o" d="M810,212 L600,255 C480,285 380,350 352,450"/>
<path class="o" d="M860,215 C960,310 1040,470 1055,640 C1060,760 1030,840 985,885"/>
<path class="o" d="M985,885 L760,930 L650,975"/>
<path class="o" d="M530,305 C640,370 745,520 752,660 C757,800 705,930 650,975"/>
<path class="m" d="M505,335 C610,400 705,530 715,660 C722,790 680,905 615,955"/>
<path class="o" d="M385,455 C395,400 450,345 520,330"/>
<path class="o" d="M540,960 L640,975"/>
<path class="o" d="M352,450 L225,500 L150,580 L105,640 L110,700 L160,830 L240,945 L300,900 L430,860 L480,870 L540,960"/>
<path class="o" d="M385,455 L530,415 L590,520 L660,665"/>
<path class="o" d="M225,500 L270,560 L330,700"/>
<path class="k" d="M135,640 L235,605 L300,690 L340,740 L660,665 L666,705 L470,790 L335,830 L290,885 L245,880 L185,820 L140,710 Z"/>
<path d="M205,700 L255,690 L260,790 L225,800 Z M290,820 L330,810 L330,850 L300,860 Z M460,760 L520,740 L530,770 L470,790 Z M210,620 L240,615 L245,650 L215,650 Z" fill="#fff"/>
</g>
</g>
<g transform="translate(0,0)"><g transform="translate(50,900) scale(0.12088)">
<ellipse class="w" cx="1478" cy="928" rx="122" ry="190" transform="rotate(-8 1478 928)"/>
<path class="m" d="M1408,775 C1378,850 1383,990 1420,1052 C1445,1095 1480,1108 1508,1100"/>
<ellipse class="o" cx="1470" cy="925" rx="62" ry="125" transform="rotate(-8 1470 925)"/>
<path class="m" d="M1458,815 C1432,870 1434,975 1464,1020 C1480,1040 1500,1040 1512,1030"/>
</g></g>
<g transform="translate(568.5,423.6)"><g transform="translate(50,900) scale(0.12088)">
<path class="w" d="M530,268 C530,225 620,187 727,187 C835,187 925,225 925,268 L925,298 C925,340 835,378 727,378 C620,378 530,340 530,298 Z"/>
<path class="o" d="M530,268 C530,312 620,348 727,348 C835,348 925,312 925,268"/>
<ellipse class="o" cx="727" cy="262" rx="127" ry="46"/>
<path class="m" d="M622,285 C640,255 690,243 727,243 C770,243 815,255 833,285 C810,305 770,313 727,313 C690,313 645,305 622,285"/>
<path class="h" style="stroke-width:7" d="M720,170 L720,270"/>
</g></g>
<g transform="translate(568.9,418.8)">
<g transform="translate(50,900) scale(0.12088)">
<path class="w" d="M503,690 L515,905 L530,935 L530,1020 L540,1018 C620,1100 650,1200 620,1350 C700,1395 840,1390 915,1320 C905,1250 900,1150 912,1050 L930,900 L940,880 L950,690 Z" style="stroke:none"/>
<path class="w" d="M930,890 L1085,847 C1160,850 1215,940 1215,1030 C1215,1130 1120,1250 1020,1255 L925,1238 Z"/>
<path class="m" d="M935,915 C990,960 1035,1050 1035,1120 C1035,1190 1020,1230 1000,1250"/>
<path class="m" d="M925,935 C975,980 1010,1060 1010,1125 C1010,1190 990,1225 965,1245"/>
<path class="o" d="M930,900 C915,1000 900,1100 905,1180 C905,1250 910,1290 915,1320"/>
<path class="o" d="M530,935 L530,1020"/>
<path class="o" style="stroke-width:2.6" d="M620,1350 C690,1395 840,1392 915,1320"/>
<path class="w" d="M503,690 L515,905 C600,975 850,975 940,880 L950,690 Z"/>
<path class="o" style="stroke-width:2.4" d="M515,905 C600,975 850,975 940,880"/>
<path class="m" d="M530,935 C620,1010 850,1005 925,925"/>
<ellipse class="w" cx="726" cy="698" rx="224" ry="84"/>
<path class="k" d="M556,715 C600,790 850,790 896,715 C870,760 800,805 726,805 C650,805 585,770 556,715 Z"/>
<ellipse class="o" cx="726" cy="705" rx="170" ry="62"/>
<path class="m" d="M505,720 C560,800 650,815 726,815 C800,815 890,800 947,715"/>
<path class="m" d="M727,805 L727,952 M765,805 L765,947"/>
</g>
<g transform="translate(65,1010) scale(0.06044)">
<path class="w" d="M810,212 L600,255 C480,285 380,350 352,450 L225,500 L150,580 L105,640 L110,700 L160,830 L240,945 L300,900 L430,860 L480,870 L540,960 L640,975 L985,885 C1060,700 1060,450 860,215 Z" style="stroke:none"/>
<path class="o" d="M810,212 L600,255 C480,285 380,350 352,450"/>
<path class="o" d="M860,215 C960,310 1040,470 1055,640 C1060,760 1030,840 985,885"/>
<path class="o" d="M985,885 L760,930 L650,975"/>
<path class="o" d="M530,305 C640,370 745,520 752,660 C757,800 705,930 650,975"/>
<path class="m" d="M505,335 C610,400 705,530 715,660 C722,790 680,905 615,955"/>
<path class="o" d="M385,455 C395,400 450,345 520,330"/>
<path class="o" d="M540,960 L640,975"/>
<path class="o" d="M352,450 L225,500 L150,580 L105,640 L110,700 L160,830 L240,945 L300,900 L430,860 L480,870 L540,960"/>
<path class="o" d="M385,455 L530,415 L590,520 L660,665"/>
<path class="o" d="M225,500 L270,560 L330,700"/>
<path class="k" d="M135,640 L235,605 L300,690 L340,740 L660,665 L666,705 L470,790 L335,830 L290,885 L245,880 L185,820 L140,710 Z"/>
<path d="M205,700 L255,690 L260,790 L225,800 Z M290,820 L330,810 L330,850 L300,860 Z M460,760 L520,740 L530,770 L470,790 Z M210,620 L240,615 L245,650 L215,650 Z" fill="#fff"/>
</g>
</g>
<g transform="translate(567,418.2)"><g transform="translate(50,900) scale(0.12088)">
<ellipse class="w" cx="1478" cy="928" rx="122" ry="190" transform="rotate(-8 1478 928)"/>
<path class="m" d="M1408,775 C1378,850 1383,990 1420,1052 C1445,1095 1480,1108 1508,1100"/>
<ellipse class="o" cx="1470" cy="925" rx="62" ry="125" transform="rotate(-8 1470 925)"/>
<path class="m" d="M1458,815 C1432,870 1434,975 1464,1020 C1480,1040 1500,1040 1512,1030"/>
</g></g>
<g transform="translate(711.2,549)"><g transform="translate(50,900) scale(0.12088)">
<path class="w" d="M530,268 C530,225 620,187 727,187 C835,187 925,225 925,268 L925,298 C925,340 835,378 727,378 C620,378 530,340 530,298 Z"/>
<path class="o" d="M530,268 C530,312 620,348 727,348 C835,348 925,312 925,268"/>
<ellipse class="o" cx="727" cy="262" rx="127" ry="46"/>
<path class="m" d="M622,285 C640,255 690,243 727,243 C770,243 815,255 833,285 C810,305 770,313 727,313 C690,313 645,305 622,285"/>
<path class="h" style="stroke-width:7" d="M720,170 L720,270"/>
</g></g>
<g transform="translate(710.7,550.6)">
<g transform="translate(50,900) scale(0.12088)">
<path class="w" d="M503,690 L515,905 L530,935 L530,1020 L540,1018 C620,1100 650,1200 620,1350 C700,1395 840,1390 915,1320 C905,1250 900,1150 912,1050 L930,900 L940,880 L950,690 Z" style="stroke:none"/>
<path class="w" d="M930,890 L1085,847 C1160,850 1215,940 1215,1030 C1215,1130 1120,1250 1020,1255 L925,1238 Z"/>
<path class="m" d="M935,915 C990,960 1035,1050 1035,1120 C1035,1190 1020,1230 1000,1250"/>
<path class="m" d="M925,935 C975,980 1010,1060 1010,1125 C1010,1190 990,1225 965,1245"/>
<path class="o" d="M930,900 C915,1000 900,1100 905,1180 C905,1250 910,1290 915,1320"/>
<path class="o" d="M530,935 L530,1020"/>
<path class="o" style="stroke-width:2.6" d="M620,1350 C690,1395 840,1392 915,1320"/>
<path class="w" d="M503,690 L515,905 C600,975 850,975 940,880 L950,690 Z"/>
<path class="o" style="stroke-width:2.4" d="M515,905 C600,975 850,975 940,880"/>
<path class="m" d="M530,935 C620,1010 850,1005 925,925"/>
<ellipse class="w" cx="726" cy="698" rx="224" ry="84"/>
<path class="k" d="M556,715 C600,790 850,790 896,715 C870,760 800,805 726,805 C650,805 585,770 556,715 Z"/>
<ellipse class="o" cx="726" cy="705" rx="170" ry="62"/>
<path class="m" d="M505,720 C560,800 650,815 726,815 C800,815 890,800 947,715"/>
<path class="m" d="M727,805 L727,952 M765,805 L765,947"/>
</g>
<g transform="translate(65,1010) scale(0.06044)">
<path class="w" d="M810,212 L600,255 C480,285 380,350 352,450 L225,500 L150,580 L105,640 L110,700 L160,830 L240,945 L300,900 L430,860 L480,870 L540,960 L640,975 L985,885 C1060,700 1060,450 860,215 Z" style="stroke:none"/>
<path class="o" d="M810,212 L600,255 C480,285 380,350 352,450"/>
<path class="o" d="M860,215 C960,310 1040,470 1055,640 C1060,760 1030,840 985,885"/>
<path class="o" d="M985,885 L760,930 L650,975"/>
<path class="o" d="M530,305 C640,370 745,520 752,660 C757,800 705,930 650,975"/>
<path class="m" d="M505,335 C610,400 705,530 715,660 C722,790 680,905 615,955"/>
<path class="o" d="M385,455 C395,400 450,345 520,330"/>
<path class="o" d="M540,960 L640,975"/>
<path class="o" d="M352,450 L225,500 L150,580 L105,640 L110,700 L160,830 L240,945 L300,900 L430,860 L480,870 L540,960"/>
<path class="o" d="M385,455 L530,415 L590,520 L660,665"/>
<path class="o" d="M225,500 L270,560 L330,700"/>
<path class="k" d="M135,640 L235,605 L300,690 L340,740 L660,665 L666,705 L470,790 L335,830 L290,885 L245,880 L185,820 L140,710 Z"/>
<path d="M205,700 L255,690 L260,790 L225,800 Z M290,820 L330,810 L330,850 L300,860 Z M460,760 L520,740 L530,770 L470,790 Z M210,620 L240,615 L245,650 L215,650 Z" fill="#fff"/>
</g>
</g>
<g transform="translate(710.4,549.4)"><g transform="translate(50,900) scale(0.12088)">
<ellipse class="w" cx="1478" cy="928" rx="122" ry="190" transform="rotate(-8 1478 928)"/>
<path class="m" d="M1408,775 C1378,850 1383,990 1420,1052 C1445,1095 1480,1108 1508,1100"/>
<ellipse class="o" cx="1470" cy="925" rx="62" ry="125" transform="rotate(-8 1470 925)"/>
<path class="m" d="M1458,815 C1432,870 1434,975 1464,1020 C1480,1040 1500,1040 1512,1030"/>
</g></g>
<!-- 30_pipe226.py -->
<g transform="translate(0,0)"><g transform="translate(250,940) scale(0.10989)">
<path class="w" d="M490,355 L1030,205 L1085,195 C1300,190 1500,330 1540,560 L1545,860 L1270,860 L1270,640 C1260,540 1230,480 1160,465 L1110,475 L555,635 Z"/>
<path class="m" d="M1060,210 C1130,270 1170,380 1130,468"/>
<path class="t" d="M1275,645 C1350,690 1470,680 1535,640"/>
<path class="w" style="stroke:none" d="M1215,880 L1250,850 L1548,848 L1582,870 L1587,1190 C1540,1280 1270,1280 1215,1185 Z"/>
<path class="o" d="M1250,850 L1215,882 L1215,1185 C1270,1280 1540,1280 1587,1190 L1582,870 L1548,848"/>
<path class="o" style="stroke-width:2.6" d="M1250,850 C1300,900 1500,900 1548,848"/>
<path class="m" d="M1215,885 C1270,960 1520,955 1582,872"/>
<path class="o" style="stroke-width:2.6" d="M1222,920 C1280,995 1520,990 1585,905"/>
<path class="w" d="M195,315 L335,275 L470,345 L500,400 L550,560 L545,640 L500,740 L375,790 L300,795 C200,740 120,560 150,420 C160,370 175,335 195,315 Z" style="stroke:none"/>
<path class="o" d="M195,315 L335,275 L470,345 L500,400 L550,560 L545,640 L500,740 L375,790 L300,795"/>
<path class="o" style="stroke-width:3.2" d="M195,315 C150,370 130,450 135,545"/>
<path class="o" style="stroke-width:3.6;stroke-dasharray:3 1" d="M165,610 C185,690 230,760 300,795"/>
<path class="m" d="M215,340 C175,400 160,470 163,545"/>
<path class="m" d="M190,610 C210,680 250,740 305,775"/>
<path class="o" d="M195,315 C260,330 330,380 350,410 C390,500 410,580 410,625 C405,700 390,750 370,785"/>
<path class="m" d="M350,410 L480,372 M410,625 L548,588"/>
<ellipse class="o" cx="322" cy="552" rx="62" ry="182" transform="rotate(-10 322 552)"/>
<ellipse class="m" cx="335" cy="552" rx="42" ry="150" transform="rotate(-10 335 552)"/>
</g></g>
<g transform="translate(601.3,410.9)"><g transform="translate(250,940) scale(0.10989)">
<path class="w" d="M490,355 L1030,205 L1085,195 C1300,190 1500,330 1540,560 L1545,860 L1270,860 L1270,640 C1260,540 1230,480 1160,465 L1110,475 L555,635 Z"/>
<path class="m" d="M1060,210 C1130,270 1170,380 1130,468"/>
<path class="t" d="M1275,645 C1350,690 1470,680 1535,640"/>
<path class="w" style="stroke:none" d="M1215,880 L1250,850 L1548,848 L1582,870 L1587,1190 C1540,1280 1270,1280 1215,1185 Z"/>
<path class="o" d="M1250,850 L1215,882 L1215,1185 C1270,1280 1540,1280 1587,1190 L1582,870 L1548,848"/>
<path class="o" style="stroke-width:2.6" d="M1250,850 C1300,900 1500,900 1548,848"/>
<path class="m" d="M1215,885 C1270,960 1520,955 1582,872"/>
<path class="o" style="stroke-width:2.6" d="M1222,920 C1280,995 1520,990 1585,905"/>
<path class="w" d="M195,315 L335,275 L470,345 L500,400 L550,560 L545,640 L500,740 L375,790 L300,795 C200,740 120,560 150,420 C160,370 175,335 195,315 Z" style="stroke:none"/>
<path class="o" d="M195,315 L335,275 L470,345 L500,400 L550,560 L545,640 L500,740 L375,790 L300,795"/>
<path class="o" style="stroke-width:3.2" d="M195,315 C150,370 130,450 135,545"/>
<path class="o" style="stroke-width:3.6;stroke-dasharray:3 1" d="M165,610 C185,690 230,760 300,795"/>
<path class="m" d="M215,340 C175,400 160,470 163,545"/>
<path class="m" d="M190,610 C210,680 250,740 305,775"/>
<path class="o" d="M195,315 C260,330 330,380 350,410 C390,500 410,580 410,625 C405,700 390,750 370,785"/>
<path class="m" d="M350,410 L480,372 M410,625 L548,588"/>
<ellipse class="o" cx="322" cy="552" rx="62" ry="182" transform="rotate(-10 322 552)"/>
<ellipse class="m" cx="335" cy="552" rx="42" ry="150" transform="rotate(-10 335 552)"/>
</g></g>
<g transform="translate(704.4,550.3)"><g transform="translate(250,940) scale(0.10989)">
<path class="w" d="M490,355 L1030,205 L1085,195 C1300,190 1500,330 1540,560 L1545,860 L1270,860 L1270,640 C1260,540 1230,480 1160,465 L1110,475 L555,635 Z"/>
<path class="m" d="M1060,210 C1130,270 1170,380 1130,468"/>
<path class="t" d="M1275,645 C1350,690 1470,680 1535,640"/>
<path class="w" style="stroke:none" d="M1215,880 L1250,850 L1548,848 L1582,870 L1587,1190 C1540,1280 1270,1280 1215,1185 Z"/>
<path class="o" d="M1250,850 L1215,882 L1215,1185 C1270,1280 1540,1280 1587,1190 L1582,870 L1548,848"/>
<path class="o" style="stroke-width:2.6" d="M1250,850 C1300,900 1500,900 1548,848"/>
<path class="m" d="M1215,885 C1270,960 1520,955 1582,872"/>
<path class="o" style="stroke-width:2.6" d="M1222,920 C1280,995 1520,990 1585,905"/>
<path class="w" d="M195,315 L335,275 L470,345 L500,400 L550,560 L545,640 L500,740 L375,790 L300,795 C200,740 120,560 150,420 C160,370 175,335 195,315 Z" style="stroke:none"/>
<path class="o" d="M195,315 L335,275 L470,345 L500,400 L550,560 L545,640 L500,740 L375,790 L300,795"/>
<path class="o" style="stroke-width:3.2" d="M195,315 C150,370 130,450 135,545"/>
<path class="o" style="stroke-width:3.6;stroke-dasharray:3 1" d="M165,610 C185,690 230,760 300,795"/>
<path class="m" d="M215,340 C175,400 160,470 163,545"/>
<path class="m" d="M190,610 C210,680 250,740 305,775"/>
<path class="o" d="M195,315 C260,330 330,380 350,410 C390,500 410,580 410,625 C405,700 390,750 370,785"/>
<path class="m" d="M350,410 L480,372 M410,625 L548,588"/>
<ellipse class="o" cx="322" cy="552" rx="62" ry="182" transform="rotate(-10 322 552)"/>
<ellipse class="m" cx="335" cy="552" rx="42" ry="150" transform="rotate(-10 335 552)"/>
</g></g>
<!-- 40_pipe223.py -->
<g transform="translate(0,0)"><g transform="translate(290,1080) scale(0.12088)">
<path class="w" d="M208,158 C208,122 270,98 350,98 C430,98 492,122 492,158 L492,175 C492,210 430,232 350,232 C270,232 208,210 208,175 Z"/>
<path class="m" d="M208,158 C208,192 270,214 350,214 C430,214 492,192 492,158"/>
<ellipse class="o" cx="350" cy="152" rx="100" ry="38"/>
<path class="m" d="M262,172 C280,150 420,150 438,172"/>
<path class="h" style="stroke-width:7" d="M350,80 L350,160"/>
<path class="t" d="M350,60 L350,160"/>
</g></g>
<g transform="translate(290,1080) scale(0.12088)">
<path class="w" d="M1380,578 L1520,540 C1600,590 1645,720 1600,832 L1440,880 Z"/>
<path class="w" d="M255,790 C280,900 350,1010 480,1045 L600,1042 L660,1022 L1290,862 L1290,648 L620,835 L600,850 C520,855 480,830 455,790 Z"/>
<path class="m" d="M615,845 C650,900 665,960 655,1025"/>
<path class="w" d="M1235,578 L1300,555 L1390,610 L1440,700 L1470,800 L1420,910 L1350,930 L1290,895 C1230,850 1190,720 1205,640 Z"/>
<path class="m" d="M1235,578 C1290,590 1350,690 1365,790 C1370,850 1360,900 1350,930"/>
<path class="m" d="M1262,570 C1320,590 1385,690 1400,800 L1420,910 M1400,800 L1470,800 M1300,555 C1340,600 1390,640 1440,700"/>
<path class="m" d="M1225,655 C1270,640 1310,660 1330,720 C1350,790 1340,850 1300,880"/>
</g>
<g transform="translate(0,0)"><g transform="translate(290,1080) scale(0.12088)">
<path class="w" d="M178,575 C178,545 250,525 350,525 C450,525 522,545 522,575 L520,762 L450,787 L370,802 L270,792 L185,762 Z"/>
<path class="o" style="stroke-width:2.6" d="M180,600 C200,625 280,660 360,660 C440,660 500,630 522,600"/>
<path class="m" d="M205,605 C215,570 270,545 350,545 C430,545 480,570 492,608"/>
<path class="m" d="M362,662 L362,800 M380,660 L380,800 M203,628 L205,770"/>
<path class="h" style="stroke-width:7" d="M350,500 L350,600"/>
<path class="t" d="M350,250 L350,600"/>
</g></g>
<g transform="translate(0,0)"><g transform="translate(490,1090) scale(0.09890)">
<ellipse class="w" cx="305" cy="608" rx="118" ry="198" transform="rotate(-12 305 608)"/>
<path class="m" d="M225,470 C195,540 205,680 250,745 C275,775 305,795 325,800"/>
<ellipse class="o" cx="292" cy="605" rx="62" ry="128" transform="rotate(-12 292 605)"/>
<path class="m" d="M268,500 C240,550 245,660 275,700 C295,725 320,725 335,710"/>
</g></g>
<g transform="translate(0,0)"><g transform="translate(490,1090) scale(0.09890)">
<path class="w" d="M925,305 C1100,290 1330,400 1360,650 L1360,1015 L1115,1015 L1115,720 C1110,620 1060,550 985,550 Z"/>
<path class="t" d="M1120,725 C1180,765 1290,755 1350,715"/>
<path class="w" style="stroke:none" d="M1085,1000 L1380,1005 L1385,1330 C1380,1440 1080,1440 1075,1330 L1075,1020 Z"/>
<path class="o" d="M1085,1002 L1075,1022 L1075,1330 C1080,1440 1380,1440 1385,1330 L1385,1022 L1378,1005"/>
<path class="o" style="stroke-width:3" d="M1085,1005 C1130,1065 1330,1065 1378,1008"/>
<path class="o" style="stroke-width:2.4;stroke-dasharray:5 1.5" d="M1082,1045 C1130,1098 1330,1098 1382,1040"/>
<path class="w" d="M590,325 L835,250 L880,265 L925,330 L985,440 L985,615 L780,690 L710,710 L620,590 L600,500 Z"/>
<path class="o" d="M835,250 L720,350 L790,470 L985,400 M790,470 L810,620 L780,690"/>
<path class="o" style="stroke-width:2.8" d="M720,350 C690,420 720,600 780,690"/>
<path class="m" d="M750,400 C740,470 760,560 800,610"/>
<ellipse class="o" cx="668" cy="510" rx="55" ry="175" transform="rotate(-8 668 510)" style="stroke-width:2.6"/>
<path class="m" d="M640,380 C610,450 620,560 660,640"/>
</g></g>
<g transform="translate(97.75,164.6)"><g transform="translate(290,1080) scale(0.12088)">
<path class="w" d="M208,158 C208,122 270,98 350,98 C430,98 492,122 492,158 L492,175 C492,210 430,232 350,232 C270,232 208,210 208,175 Z"/>
<path class="m" d="M208,158 C208,192 270,214 350,214 C430,214 492,192 492,158"/>
<ellipse class="o" cx="350" cy="152" rx="100" ry="38"/>
<path class="m" d="M262,172 C280,150 420,150 438,172"/>
<path class="h" style="stroke-width:7" d="M350,80 L350,160"/>
<path class="t" d="M350,60 L350,160"/>
</g></g>
<g transform="translate(98.2,164.5)"><g transform="translate(290,1080) scale(0.12088)">
<path class="w" d="M178,575 C178,545 250,525 350,525 C450,525 522,545 522,575 L520,762 L450,787 L370,802 L270,792 L185,762 Z"/>
<path class="o" style="stroke-width:2.6" d="M180,600 C200,625 280,660 360,660 C440,660 500,630 522,600"/>
<path class="m" d="M205,605 C215,570 270,545 350,545 C430,545 480,570 492,608"/>
<path class="m" d="M362,662 L362,800 M380,660 L380,800 M203,628 L205,770"/>
<path class="h" style="stroke-width:7" d="M350,500 L350,600"/>
<path class="t" d="M350,250 L350,600"/>
</g></g>
<g transform="translate(73.5,171.2)"><g transform="translate(490,1090) scale(0.09890)">
<ellipse class="w" cx="305" cy="608" rx="118" ry="198" transform="rotate(-12 305 608)"/>
<path class="m" d="M225,470 C195,540 205,680 250,745 C275,775 305,795 325,800"/>
<ellipse class="o" cx="292" cy="605" rx="62" ry="128" transform="rotate(-12 292 605)"/>
<path class="m" d="M268,500 C240,550 245,660 275,700 C295,725 320,725 335,710"/>
</g></g>
<g transform="translate(209,129.5)"><g transform="translate(490,1090) scale(0.09890)">
<ellipse class="w" cx="305" cy="608" rx="118" ry="198" transform="rotate(-12 305 608)"/>
<path class="m" d="M225,470 C195,540 205,680 250,745 C275,775 305,795 325,800"/>
<ellipse class="o" cx="292" cy="605" rx="62" ry="128" transform="rotate(-12 292 605)"/>
<path class="m" d="M268,500 C240,550 245,660 275,700 C295,725 320,725 335,710"/>
</g></g>
<g transform="translate(208.5,131)"><g transform="translate(490,1090) scale(0.09890)">
<path class="w" d="M925,305 C1100,290 1330,400 1360,650 L1360,1015 L1115,1015 L1115,720 C1110,620 1060,550 985,550 Z"/>
<path class="t" d="M1120,725 C1180,765 1290,755 1350,715"/>
<path class="w" style="stroke:none" d="M1085,1000 L1380,1005 L1385,1330 C1380,1440 1080,1440 1075,1330 L1075,1020 Z"/>
<path class="o" d="M1085,1002 L1075,1022 L1075,1330 C1080,1440 1380,1440 1385,1330 L1385,1022 L1378,1005"/>
<path class="o" style="stroke-width:3" d="M1085,1005 C1130,1065 1330,1065 1378,1008"/>
<path class="o" style="stroke-width:2.4;stroke-dasharray:5 1.5" d="M1082,1045 C1130,1098 1330,1098 1382,1040"/>
<path class="w" d="M590,325 L835,250 L880,265 L925,330 L985,440 L985,615 L780,690 L710,710 L620,590 L600,500 Z"/>
<path class="o" d="M835,250 L720,350 L790,470 L985,400 M790,470 L810,620 L780,690"/>
<path class="o" style="stroke-width:2.8" d="M720,350 C690,420 720,600 780,690"/>
<path class="m" d="M750,400 C740,470 760,560 800,610"/>
<ellipse class="o" cx="668" cy="510" rx="55" ry="175" transform="rotate(-8 668 510)" style="stroke-width:2.6"/>
<path class="m" d="M640,380 C610,450 620,560 660,640"/>
</g></g>
<!-- 50_pipe37.py -->
<g transform="translate(395,1250) scale(0.12088)">
<path class="w" d="M200,760 C230,900 330,1000 440,1010 L560,1000 L600,975 L1040,862 L1040,668 L575,800 L510,805 C450,800 420,790 405,755 Z"/>
<path class="m" d="M545,815 C590,870 605,930 590,985"/>
<path class="w" d="M960,635 L1160,560 L1200,580 L1255,690 L1275,800 L1255,870 L1150,920 L1060,935 L1035,905 C1050,880 1050,850 1040,840 L1040,700 C1000,690 960,670 960,635 Z"/>
<path class="o" d="M1065,600 L1145,740 L1255,690 M1145,740 L1140,905"/>
<path class="m" d="M965,660 C1000,630 1050,650 1085,720 C1115,790 1115,860 1090,905"/>
<path class="m" d="M985,690 C1010,660 1045,680 1070,740 C1090,800 1090,850 1060,890"/>
<path class="m" d="M1040,610 C1080,640 1125,740 1130,800 C1135,850 1125,890 1110,915"/>
</g>
<g transform="translate(580,1230) scale(0.10989)">
<path class="w" d="M700,500 L830,440 L950,415 L1000,450 C1050,520 1075,620 1060,680 L1020,730 L900,760 L760,790 Z"/>
<path class="o" d="M830,440 C890,520 920,640 900,760"/>
<path class="m" d="M760,480 C820,560 850,650 830,745"/>
<path class="m" d="M870,430 C930,510 955,630 940,750"/>
<path class="m" d="M785,650 L825,640 L830,700 L790,710 Z"/>
<path class="w" d="M330,580 L540,490 L620,840 L400,897 C330,880 280,800 280,720 C280,650 300,600 330,580 Z"/>
<ellipse class="o" cx="372" cy="740" rx="92" ry="165" transform="rotate(-12 372 740)"/>
<ellipse class="m" cx="380" cy="742" rx="62" ry="125" transform="rotate(-12 380 742)"/>
<path class="m" d="M330,625 C300,680 300,780 340,850"/>
<path class="w" d="M510,515 L540,490 L650,460 L700,490 L760,600 L785,700 L780,790 L760,860 L660,900 L615,850 L600,700 L575,620 Z"/>
<path class="o" d="M540,490 C560,540 600,600 640,650 L760,600 M640,650 L655,830 L780,790 M655,830 L660,900"/>
<path class="m" d="M510,515 C540,560 580,640 590,700 C600,760 605,820 615,850"/>
<path class="k" d="M615,850 L655,835 L775,800 L760,860 L660,900 Z"/>
</g>
<!-- 60_hose224.py -->
<path class="w" d="M1163.3 1196.5L1163.3 1236.4C1163.3 1256.9 1148.8 1273.8 1124.6 1274.5C1112.5 1274.5 1102.9 1269.0 1093.8 1261.8L1069.0 1243.6C1054.5 1232.7 1047.3 1217.0 1049.1 1202.5C1050.9 1186.8 1063.0 1175.9 1077.5 1172.9L1162.1 1151.2C1170.5 1149.9 1176.6 1151.2 1181.4 1153.0 L1300.3 1179.2L1306.4 1179.2L1312.4 1178.0L1367.4 1162.9C1371.6 1162.3 1376.5 1167.7 1378.3 1174.9C1378.9 1179.8 1378.3 1183.4 1376.5 1185.2L1316.0 1202.7L1313.6 1203.7C1308.8 1205.2 1300.3 1205.2 1295.5 1204.2 L1176.6 1177.1C1174.2 1175.7 1171.8 1175.0 1168.1 1175.3L1084.7 1197.1C1079.9 1198.3 1076.3 1199.5 1074.5 1203.7C1072.6 1208.6 1075.1 1217.0 1082.3 1223.7L1106.5 1243.0C1112.5 1247.3 1117.4 1249.7 1123.4 1249.7C1131.9 1249.7 1138.5 1244.8 1138.5 1236.4L1138.5 1196.5Z"/>
<path class="m" d="M1301.5 1179.8C1303.4 1188.2 1300.3 1197.9 1296.1 1204.0M1311.8 1178.6C1316.6 1185.8 1317.9 1195.5 1315.4 1202.7"/>
<path class="m" d="M1077.5 1172.9C1084.7 1180.8 1087.1 1189.2 1084.7 1197.1M1082.3 1223.7L1069.0 1243.6M1106.5 1243.0L1093.8 1261.8M1138.5 1236.4C1145.2 1238.8 1154.8 1238.8 1162.1 1235.8M1162.1 1151.8C1168.1 1159.0 1169.9 1168.7 1168.1 1175.3M1180.8 1153.0C1182.0 1161.4 1180.2 1169.9 1174.8 1176.5"/>
<g transform="translate(1040,1130) scale(0.12088)"><ellipse class="w" cx="917" cy="550" rx="103" ry="38"/></g>
<g transform="translate(1040,1040) scale(0.14286)">
<path class="w" d="M625,585 L655,560 L900,560 L925,590 L912,628 L850,662 L720,667 L645,628 Z"/>
<path class="o" d="M640,600 L720,640 L850,635 L915,600 M720,640 L720,667 M850,635 L850,662"/>
<path class="w" d="M645,470 C645,400 905,400 905,470 L905,570 C860,600 700,600 648,570 Z"/>
<path class="o" style="stroke-width:2.8" d="M648,490 C690,545 860,545 905,490"/>
<path class="o" style="stroke-width:2.6" d="M648,570 C700,605 860,600 905,570"/>
<path class="m" d="M660,590 C720,620 850,615 895,590"/>
<ellipse class="m" cx="775" cy="472" rx="95" ry="36"/>
<path class="h" style="stroke-width:7" d="M773,380 L773,470"/>
<path class="t" d="M773,318 L773,470"/>
</g>
<g transform="translate(1040,1040) scale(0.14286)">
<path class="w" d="M668,190 C668,135 880,135 880,190 L880,255 C880,310 668,310 668,255 Z" style="stroke-width:2.6"/>
<path class="o" style="stroke-width:2.8" d="M668,190 C690,240 860,240 880,190"/>
<path class="t" d="M773,0 L773,165"/>
</g>
<!-- 80_leaders_top.py -->
<polyline class="h" style="stroke-width:6" points="137.0,921.0 137.0,931.0"/>
<polyline class="t" style="stroke-width:1.3" points="137.0,915.0 137.0,932.6"/>
<polyline class="h" style="stroke-width:6" points="137.0,972.0 137.0,983.0"/>
<polyline class="t" style="stroke-width:1.3" points="137.0,947.1 137.0,983.4"/>
<polyline class="h" style="stroke-width:6" points="705.8,1391.0 705.8,1404.0"/>
<polyline class="t" style="stroke-width:1.7" points="705.8,1368.4 705.8,1405.2"/>
<polyline class="h" style="stroke-width:6" points="848.8,1471.0 848.8,1481.0"/>
<polyline class="t" style="stroke-width:1.5" points="848.8,1465.0 848.8,1482.0"/>
<polyline class="h" style="stroke-width:6" points="848.8,1524.0 848.8,1535.0"/>
<polyline class="t" style="stroke-width:1.5" points="848.8,1496.5 848.8,1536.4"/>
<polyline class="h" style="stroke-width:5" points="215.2,1017.6 226.3,1014.6"/>
<polyline class="t" style="stroke-width:1.2" points="198.7,1022.1 227.7,1014.2"/>
<polyline class="h" style="stroke-width:5" points="265.0,1004.5 276.1,1001.4"/>
<polyline class="t" style="stroke-width:1.2" points="247.6,1009.3 277.5,1001.0"/>
<polyline class="h" style="stroke-width:5" points="782.7,1434.9 793.8,1432.2"/>
<polyline class="t" style="stroke-width:1.2" points="765.7,1439.1 795.3,1431.8"/>
<polyline class="h" style="stroke-width:5" points="867.1,1412.2 878.3,1409.2"/>
<polyline class="t" style="stroke-width:1.2" points="814.0,1426.4 879.7,1408.8"/>
<polyline class="h" style="stroke-width:5" points="925.1,1566.8 936.2,1564.0"/>
<polyline class="t" style="stroke-width:1.2" points="908.7,1570.9 937.7,1563.6"/>
<polyline class="h" style="stroke-width:5" points="970.5,1554.4 981.6,1551.4"/>
<polyline class="t" style="stroke-width:1.2" points="957.1,1558.1 983.0,1551.0"/>
<polyline class="h" style="stroke-width:5" points="506.1,1155.1 517.2,1152.2"/>
<polyline class="t" style="stroke-width:1.2" points="489.4,1159.5 518.7,1151.8"/>
<polyline class="h" style="stroke-width:5" points="542.8,1145.0 553.9,1141.8"/>
<polyline class="t" style="stroke-width:1.2" points="534.5,1147.4 555.3,1141.4"/>
<polyline class="h" style="stroke-width:5" points="579.4,1325.8 590.5,1322.9"/>
<polyline class="t" style="stroke-width:1.2" points="550.3,1333.4 592.0,1322.5"/>
<polyline class="h" style="stroke-width:5" points="608.0,1315.3 619.2,1312.7"/>
<polyline class="t" style="stroke-width:1.2" points="606.4,1315.7 620.7,1312.4"/>
<polyline class="t" style="stroke-width:1.2" points="698.1,1289.3 700.5,1288.7"/>
<polyline class="h" style="stroke-width:5" points="714.7,1284.9 725.9,1282.0"/>
<polyline class="t" style="stroke-width:1.2" points="710.0,1286.2 727.3,1281.6"/>
<polyline class="h" style="stroke-width:5" points="754.5,1274.8 765.7,1272.2"/>
<polyline class="t" style="stroke-width:1.2" points="743.5,1277.4 767.2,1271.9"/>
<!-- 90_labels.py -->
<text x="191" y="896.7">28</text>
<text x="346" y="916.7">226</text>
<text x="129.5" y="1132.7">5</text>
<text x="237.4" y="1112.7">39</text>
<text x="228.5" y="1222.7">223</text>
<text x="499.8" y="1085.9">39</text>
<text x="605.8" y="1074">225</text>
<text x="633.5" y="1236.2">91</text>
<text x="711.3" y="1214.3">39</text>
<text x="814.2" y="1206.4">225</text>
<text x="632" y="1384.4">39</text>
<text x="763" y="1368.2">28</text>
<text x="459" y="1430.7">37</text>
<text x="334" y="1277.2">39</text>
<text x="997.3" y="1330.1">226</text>
<text x="618.8" y="1548">5</text>
<text x="701.9" y="1555.4">28</text>
<text x="1097.7" y="1462.9">226</text>
<text x="925" y="1649.4">28</text>
<text x="833.9" y="1680.6">5</text>
<text x="1198.3" y="1084.7">7</text>
<text x="1079" y="1122.3">6</text>
<text x="1195.9" y="1253.2">224</text>
</svg>
</body></html>
